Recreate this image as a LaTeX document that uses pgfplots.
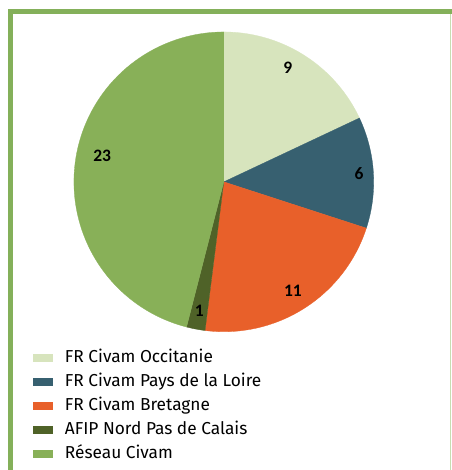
\documentclass[border=0pt]{standalone}
\usepackage{pgfplots}
\pgfplotsset{compat=1.18}
\usepackage{pgfplotstable}
\usepackage{fontspec}
\setmainfont{Fira Sans}
\newfontfamily\labfont{Carlito}
\definecolor{occ}{HTML}{D7E4BD}
\definecolor{pdl}{HTML}{376070}
\definecolor{bre}{HTML}{E8602A}
\definecolor{afip}{HTML}{4F6228}
\definecolor{res}{HTML}{88B058}
\definecolor{framec}{HTML}{84B05A}
\definecolor{framelight}{HTML}{C8DDB2}

\pgfplotstableread{
value
9
6
11
1
23
}\piedata

\begin{document}
\begin{tikzpicture}
\pgfplotstablegetelem{0}{value}\of\piedata \let\vA\pgfplotsretval
\pgfplotstablegetelem{1}{value}\of\piedata \let\vB\pgfplotsretval
\pgfplotstablegetelem{2}{value}\of\piedata \let\vC\pgfplotsretval
\pgfplotstablegetelem{3}{value}\of\piedata \let\vD\pgfplotsretval
\pgfplotstablegetelem{4}{value}\of\piedata \let\vE\pgfplotsretval
\pgfmathsetmacro\tot{\vA+\vB+\vC+\vD+\vE}
\pgfmathsetmacro\aA{90}
\pgfmathsetmacro\aB{\aA-\vA*360/\tot}
\pgfmathsetmacro\aC{\aB-\vB*360/\tot}
\pgfmathsetmacro\aD{\aC-\vC*360/\tot}
\pgfmathsetmacro\aE{\aD-\vD*360/\tot}
\pgfmathsetmacro\aF{\aE-\vE*360/\tot}
\pgfmathsetmacro\mA{(\aA+\aB)/2}
\pgfmathsetmacro\mB{(\aB+\aC)/2}
\pgfmathsetmacro\mC{(\aC+\aD)/2}
\pgfmathsetmacro\mD{(\aD+\aE)/2}
\pgfmathsetmacro\mE{(\aE+\aF)/2}
% frame
\fill[white] (0bp,0bp) rectangle (452bp,470bp);
\fill[framec] (8bp,0bp) rectangle (13.5bp,461bp);
\fill[framec] (8bp,455.5bp) rectangle (452bp,461bp);
\draw[framelight, line width=0.8bp] (451bp,0bp) -- (451bp,455.5bp);
\begin{axis}[
  at={(224bp,288bp)}, anchor=center,
  scale only axis, width=300bp, height=300bp,
  xmin=-1, xmax=1, ymin=-1, ymax=1,
  hide axis, clip=false,
  legend style={at={(-0.1367,-0.062)}, anchor=north west, draw=none, fill=none,
    inner sep=0pt, row sep=8bp,
    font=\fontsize{17.3bp}{20bp}\selectfont,
    nodes={inner sep=0pt, text height=12bp, text depth=4bp},
    /tikz/every odd column/.append style={column sep=12.5bp}},
  legend cell align=left,
  legend image code/.code={\fill[#1] (0bp,-2.5bp) rectangle (19bp,4.5bp);},
]
\addplot[fill=occ, draw=occ, line width=0.3pt, domain=\aB:\aA, samples=100, variable=\t] ({cos(\t)},{sin(\t)}) -- (axis cs:0,0) -- cycle;
\addlegendentry{FR Civam Occitanie}
\addplot[fill=pdl, draw=pdl, line width=0.3pt, domain=\aC:\aB, samples=100, variable=\t] ({cos(\t)},{sin(\t)}) -- (axis cs:0,0) -- cycle;
\addlegendentry{FR Civam Pays de la Loire}
\addplot[fill=bre, draw=bre, line width=0.3pt, domain=\aD:\aC, samples=100, variable=\t] ({cos(\t)},{sin(\t)}) -- (axis cs:0,0) -- cycle;
\addlegendentry{FR Civam Bretagne}
\addplot[fill=afip, draw=afip, line width=0.3pt, domain=\aE:\aD, samples=20, variable=\t] ({cos(\t)},{sin(\t)}) -- (axis cs:0,0) -- cycle;
\addlegendentry{AFIP Nord Pas de Calais}
\addplot[fill=res, draw=res, line width=0.3pt, domain=\aF:\aE, samples=150, variable=\t] ({cos(\t)},{sin(\t)}) -- (axis cs:0,0) -- cycle;
\addlegendentry{Réseau Civam}
\begin{scope}[font=\labfont\bfseries\fontsize{17.5bp}{20bp}\selectfont]
\node at (axis cs:{0.87*cos(\mA+3)},{0.87*sin(\mA+3)}) {\vA};
\node at (axis cs:{0.905*cos(\mB)},{0.905*sin(\mB)}) {\vB};
\node at (axis cs:{0.86*cos(\mC)},{0.86*sin(\mC)}) {\vC};
\node at (axis cs:{0.875*cos(\mD)},{0.875*sin(\mD)}) {\vD};
\node at (axis cs:{0.83*cos(\mE-5)},{0.83*sin(\mE-5)}) {\vE};
\end{scope}
\end{axis}
\end{tikzpicture}
\end{document}
